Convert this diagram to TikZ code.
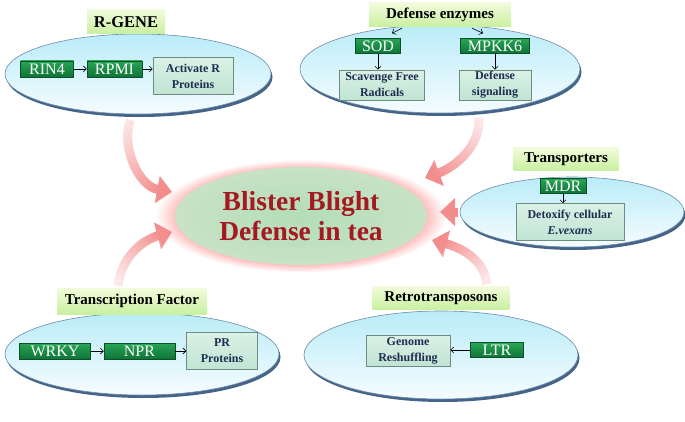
\documentclass[tikz,border=0pt]{standalone}
\usepackage{fontspec}
\setmainfont{Liberation Serif}
\usepackage{tikz}
\usetikzlibrary{shapes.geometric, arrows.meta, positioning, calc, shadows, fadings}

\definecolor{discTop}{RGB}{185,236,248}
\definecolor{discBot}{RGB}{246,252,255}
\definecolor{discLine}{RGB}{110,140,170}
\definecolor{discRim}{RGB}{70,100,135}
\definecolor{tagTop}{RGB}{242,251,220}
\definecolor{tagBot}{RGB}{200,240,160}
\definecolor{geneTop}{RGB}{40,165,85}
\definecolor{geneBot}{RGB}{15,115,55}
\definecolor{geneLine}{RGB}{10,80,40}
\definecolor{outTop}{RGB}{218,241,230}
\definecolor{outBot}{RGB}{192,228,212}
\definecolor{outLine}{RGB}{110,140,130}
\definecolor{outText}{RGB}{30,45,80}
\definecolor{hubIn}{RGB}{178,222,182}
\definecolor{hubOut}{RGB}{200,226,198}
\definecolor{hubText}{RGB}{165,25,35}
\definecolor{fatCol}{RGB}{243,140,140}

\tikzfading[name=tailfade, left color=transparent!80, right color=transparent!0]

\begin{document}
\begin{tikzpicture}[x=1pt, y=1pt,
        disc/.style={ellipse, draw=discLine, line width=0.6pt, top color=discTop, bottom color=discBot, inner sep=0pt, drop shadow={shadow xshift=1.5pt, shadow yshift=-3pt, fill=discRim, opacity=1}},
        tag/.style={rectangle, top color=tagTop, bottom color=tagBot, inner sep=0pt, minimum height=24pt, font=\bfseries\fontsize{15}{18}\selectfont},
        gene/.style={rectangle, draw=geneLine, line width=0.5pt, top color=geneTop, bottom color=geneBot, text=white, inner sep=0pt, minimum height=16pt, font=\fontsize{16}{16}\selectfont},
        outcome/.style={rectangle, draw=outLine, line width=0.6pt, top color=outTop, bottom color=outBot, text=outText, align=center, inner sep=0pt, font=\bfseries\fontsize{12}{16}\selectfont},
        hub/.style={ellipse, minimum width=252pt, minimum height=98pt, inner color=hubIn, outer color=hubOut, circular glow={fill=red!55, opacity=0.5, shadow scale=1.15}, align=center, text=hubText, font=\bfseries\fontsize{27.5}{30}\selectfont},
        link/.style={-{Straight Barb[length=3pt, width=6pt]}, line width=0.6pt},
        fat/.style={line width=9pt, draw=fatCol, -{Triangle[length=15pt, width=27pt]}}
    ]
        \useasboundingbox (0,0) rectangle (685,421);

        % discs
        \node[disc, minimum width=266pt, minimum height=80pt] (rgene) at (138,347) {};
        \node[disc, minimum width=280pt, minimum height=88pt] (enz) at (440,352) {};
        \node[disc, minimum width=224pt, minimum height=70pt] (transp) at (572,209) {};
        \node[disc, minimum width=274pt, minimum height=82pt] (tf) at (142,67) {};
        \node[disc, minimum width=274pt, minimum height=88pt] (retro) at (441,66) {};

        % centre
        \node[hub] (blight) at (301,205) {Blister Blight\\Defense in tea};

        % titles
        \node[tag, minimum width=78pt, font=\bfseries\fontsize{16.5}{18}\selectfont] (rgeneTag) at (126,399) {R-GENE};
        \node[tag, minimum width=142pt] (enzTag) at (440,406) {Defense enzymes};
        \node[tag, minimum width=105pt, minimum height=23pt] (transpTag) at (566,262) {Transporters};
        \node[tag, minimum width=150pt, minimum height=26pt] (tfTag) at (132,120) {Transcription Factor};
        \node[tag, minimum width=137pt, minimum height=23pt] (retroTag) at (441,123) {Retrotransposons};

        % R-GENE
        \node[gene, minimum width=53pt] (rin4) at (47,352) {RIN4};
        \node[gene, minimum width=55pt, right=13pt of rin4] (rpmi) {RPMI};
        \node[outcome, minimum width=80pt, minimum height=37pt] (actR) at (193,345) {Activate R\\Proteins};

        % Defense enzymes
        \node[gene, minimum width=45pt, minimum height=15pt] (sod) at (378,375) {SOD};
        \node[gene, minimum width=69pt, minimum height=15pt] (mpkk6) at (495,375) {MPKK6};
        \node[outcome, minimum width=85pt, minimum height=30pt] (scav) at (382,336) {Scavenge Free\\Radicals};
        \node[outcome, minimum width=72pt, minimum height=30pt] (defsig) at (495,336) {Defense\\signaling};

        % Transporters
        \node[gene, minimum width=46pt, minimum height=15pt] (mdr) at (563,235) {MDR};
        \node[outcome, minimum width=108pt, minimum height=37pt] (detox) at (570,199) {Detoxify cellular\\\textit{E.vexans}};

        % Transcription Factor
        \node[gene, minimum width=71pt] (wrky) at (55,70) {WRKY};
        \node[gene, minimum width=71pt, right=13pt of wrky] (npr) {NPR};
        \node[outcome, minimum width=71pt, minimum height=37pt, right=11pt of npr] (prp) {PR\\Proteins};

        % Retrotransposons
        \node[outcome, minimum width=84pt, minimum height=31pt] (genome) at (408,70) {Genome\\Reshuffling};
        \node[gene, minimum width=53pt, minimum height=15pt] (ltr) at (497,71) {LTR};

        % Connectors
        \draw[link] (rin4) -- (rpmi);
        \draw[link] (rpmi.east) -- (rpmi.east -| actR.west);
        \draw[link] ($(enzTag.south)+(-38,-1)$) -- ($(sod.north)+(14,5)$);
        \draw[link] ($(enzTag.south)+(32,-1)$) -- ($(mpkk6.north)+(-12,5)$);
        \draw[link] (sod.south) -- (sod.south |- scav.north);
        \draw[link] (mpkk6) -- (defsig);
        \draw[link] (mdr.south) -- (mdr.south |- detox.north);
        \draw[link] (wrky) -- (npr);
        \draw[link] (npr) -- (prp);
        \draw[link] (ltr.west) -- (ltr.west -| genome.east);

        % arrows into the centre
        \coordinate (tipA) at ($(blight.center)+(-129,24)$);
        \coordinate (tipB) at ($(blight.center)+(124,38)$);
        \coordinate (tipC) at ($(blight.center)+(139,4)$);
        \coordinate (tipD) at ($(blight.center)+(131,-24)$);
        \coordinate (tipE) at ($(blight.center)+(-129,-16)$);
        \draw[fat, path fading=tailfade, fading angle=-58, shorten <=6pt] (rgene.262) to[out=250, in=170] (tipA);
        \draw[fat, path fading=tailfade, fading angle=-130, shorten <=6pt] (enz.-48) to[out=275, in=20] (tipB);
        \draw[fat, shorten <=2pt] (transp.west) -- (tipC);
        \draw[fat, path fading=tailfade, fading angle=140, shorten <=2pt] ($(retroTag.north)+(46,0)$) to[out=95, in=-15] (tipD);
        \draw[fat, path fading=tailfade, fading angle=45, shorten <=2pt] ($(tfTag.north)+(-14,0)$) to[out=85, in=195] (tipE);

    \end{tikzpicture}
\end{document}
